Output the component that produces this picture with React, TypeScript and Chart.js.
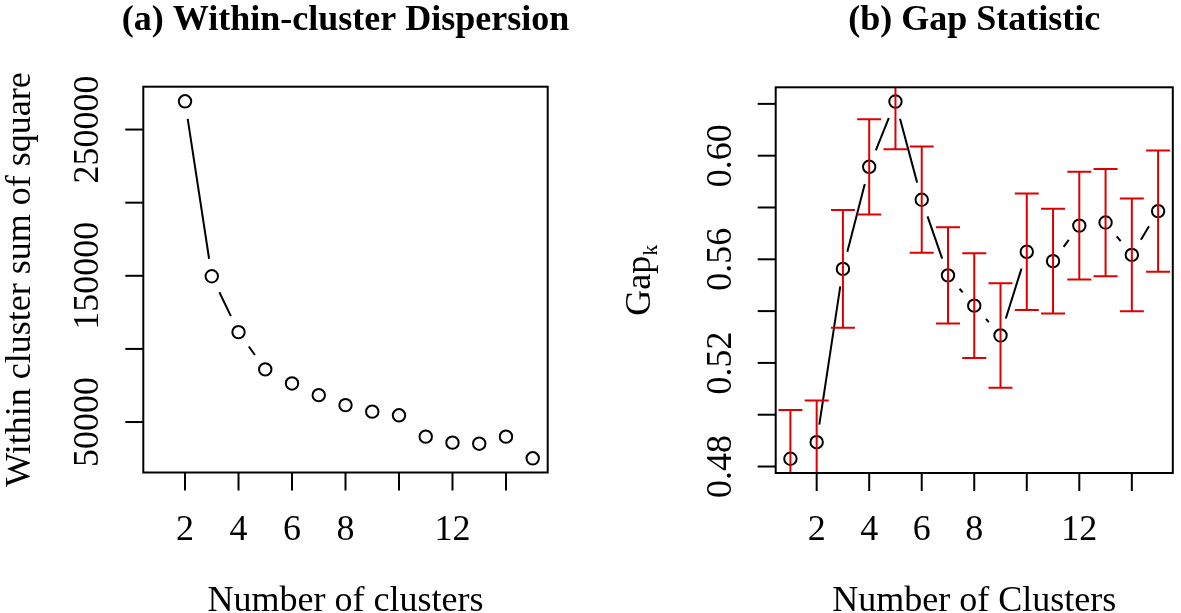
import React, { useEffect, useRef } from 'react';
import { Chart, registerables } from 'chart.js';

Chart.register(...registerables);

const FONT = '"Liberation Serif", "Times New Roman", Times, serif';

// ---------- Panel (a): within-cluster dispersion ----------
const wcssK = [2, 3, 4, 5, 6, 7, 8, 9, 10, 11, 12, 13, 14, 15];
const wcssValues = [269300, 149700, 111500, 86000, 76400, 68400, 61600, 57100, 54600, 40000, 35900, 35200, 40000, 25200];
const wcssYTicks = [50000, 100000, 150000, 200000, 250000];
const wcssYTickLabels = ['50000', '', '150000', '', '250000'];

// ---------- Panel (b): gap statistic ----------
const gapK = [1, 2, 3, 4, 5, 6, 7, 8, 9, 10, 11, 12, 13, 14, 15];
const gapValues = [0.4830, 0.4894, 0.5563, 0.5957, 0.6209, 0.5830, 0.5538, 0.5421, 0.5306, 0.5629, 0.5593, 0.5730, 0.5742, 0.5617, 0.5786];
const gapSE = [0.0188, 0.0161, 0.0227, 0.0184, 0.0184, 0.0205, 0.0186, 0.0202, 0.0202, 0.0225, 0.0202, 0.0208, 0.0207, 0.0218, 0.0234];
const gapYTicks = [0.48, 0.50, 0.52, 0.54, 0.56, 0.58, 0.60, 0.62];
const gapYTickLabels = ['0.48', '', '0.52', '', '0.56', '', '0.60', ''];

// ---------- shared x axis ----------
const xTicks = [2, 4, 6, 8, 10, 12, 14];
const xTickLabels = ['2', '4', '6', '8', '', '12', ''];

const W = 1181;
const H = 613;

type PanelCfg = {
  title: string;
  xTitle: string;
  yTitle: string;
  ySub?: string;
  yTitleX: number;
  yTicks: number[];
  yTickLabels: string[];
  errors?: number[];
};

function drawText(ctx: CanvasRenderingContext2D, str: string, x: number, y: number, font: string, align: CanvasTextAlign, rot = 0) {
  ctx.save();
  ctx.translate(x, y);
  if (rot) ctx.rotate(rot);
  ctx.font = font;
  ctx.textAlign = align;
  ctx.textBaseline = 'alphabetic';
  ctx.fillStyle = '#000';
  ctx.fillText(str, 0, 0);
  ctx.restore();
}

function makePlugin(cfg: PanelCfg) {
  return {
    id: 'rstyle',
    beforeDatasetsDraw(chart: any) {
      const ctx: CanvasRenderingContext2D = chart.ctx;
      const pts = chart.getDatasetMeta(0).data;
      const gap = 17.7;
      ctx.save();
      ctx.strokeStyle = '#000';
      ctx.lineWidth = 2;
      for (let i = 0; i < pts.length - 1; i++) {
        const a = pts[i], b = pts[i + 1];
        const dx = b.x - a.x, dy = b.y - a.y;
        const d = Math.hypot(dx, dy);
        if (d <= 2 * gap) continue;
        const ux = dx / d, uy = dy / d;
        ctx.beginPath();
        ctx.moveTo(a.x + ux * gap, a.y + uy * gap);
        ctx.lineTo(b.x - ux * gap, b.y - uy * gap);
        ctx.stroke();
      }
      ctx.restore();
    },
    afterDatasetsDraw(chart: any) {
      if (!cfg.errors) return;
      const ctx: CanvasRenderingContext2D = chart.ctx;
      const { x: xs, y: ys } = chart.scales;
      const area = chart.chartArea;
      const ds = chart.data.datasets[0].data as { x: number; y: number }[];
      ctx.save();
      ctx.beginPath();
      ctx.rect(area.left, area.top, area.right - area.left, area.bottom - area.top);
      ctx.clip();
      ctx.strokeStyle = '#dd0000';
      ctx.lineWidth = 2;
      ds.forEach((p, i) => {
        const se = cfg.errors![i];
        const px = xs.getPixelForValue(p.x);
        const yt = ys.getPixelForValue(p.y + se);
        const yb = ys.getPixelForValue(p.y - se);
        const cap = 12;
        ctx.beginPath();
        ctx.moveTo(px, yt);
        ctx.lineTo(px, yb);
        ctx.moveTo(px - cap, yt);
        ctx.lineTo(px + cap, yt);
        ctx.moveTo(px - cap, yb);
        ctx.lineTo(px + cap, yb);
        ctx.stroke();
      });
      ctx.restore();
    },
    afterDraw(chart: any) {
      const ctx: CanvasRenderingContext2D = chart.ctx;
      const { x: xs, y: ys } = chart.scales;
      const a = chart.chartArea;
      const cx = (a.left + a.right) / 2;
      const cy = (a.top + a.bottom) / 2;
      ctx.save();
      ctx.strokeStyle = '#000';
      ctx.lineWidth = 2;
      ctx.strokeRect(a.left, a.top, a.right - a.left, a.bottom - a.top);
      // x ticks
      xTicks.forEach((v, i) => {
        const px = xs.getPixelForValue(v);
        ctx.beginPath();
        ctx.moveTo(px, a.bottom);
        ctx.lineTo(px, a.bottom + 18);
        ctx.stroke();
        if (xTickLabels[i]) drawText(ctx, xTickLabels[i], px, 540, `36px ${FONT}`, 'center');
      });
      // y ticks
      cfg.yTicks.forEach((v, i) => {
        const py = ys.getPixelForValue(v);
        ctx.beginPath();
        ctx.moveTo(a.left - 18, py);
        ctx.lineTo(a.left, py);
        ctx.stroke();
        if (cfg.yTickLabels[i]) drawText(ctx, cfg.yTickLabels[i], a.left - 45, py, `36px ${FONT}`, 'center', -Math.PI / 2);
      });
      ctx.restore();
      // titles
      drawText(ctx, cfg.title, cx, 29.5, `bold 36px ${FONT}`, 'center');
      drawText(ctx, cfg.xTitle, cx, 611, `36px ${FONT}`, 'center');
      if (cfg.ySub) {
        ctx.save();
        ctx.translate(cfg.yTitleX, cy);
        ctx.rotate(-Math.PI / 2);
        ctx.fillStyle = '#000';
        ctx.textBaseline = 'alphabetic';
        ctx.textAlign = 'left';
        ctx.font = `36px ${FONT}`;
        const w1 = ctx.measureText(cfg.yTitle).width;
        ctx.font = `22px ${FONT}`;
        const w2 = ctx.measureText(cfg.ySub).width;
        const start = -(w1 + w2) / 2;
        ctx.font = `36px ${FONT}`;
        ctx.fillText(cfg.yTitle, start, 0);
        ctx.font = `22px ${FONT}`;
        ctx.fillText(cfg.ySub, start + w1, 7);
        ctx.restore();
      } else {
        drawText(ctx, cfg.yTitle, cfg.yTitleX, cy, `36px ${FONT}`, 'center', -Math.PI / 2);
      }
    },
  };
}

function makeConfig(
  xs: number[],
  ys: number[],
  yMin: number,
  yMax: number,
  padding: { left: number; right: number; top: number; bottom: number },
  cfg: PanelCfg
): any {
  return {
    type: 'scatter',
    data: {
      datasets: [
        {
          data: xs.map((x, i) => ({ x, y: ys[i] })),
          pointRadius: 6.2,
          pointBorderWidth: 2,
          pointBorderColor: '#000',
          pointBackgroundColor: 'rgba(0,0,0,0)',
          pointHoverRadius: 6.2,
          showLine: false,
          clip: false,
        },
      ],
    },
    options: {
      animation: false,
      responsive: false,
      events: [],
      layout: { padding },
      plugins: {
        legend: { display: false },
        tooltip: { enabled: false },
        title: { display: false },
      },
      scales: {
        x: { type: 'linear', display: false, min: 0.44, max: 15.56 },
        y: { type: 'linear', display: false, min: yMin, max: yMax },
      },
    },
    plugins: [makePlugin(cfg)],
  };
}

export default function App() {
  const refA = useRef<HTMLCanvasElement | null>(null);
  const refB = useRef<HTMLCanvasElement | null>(null);

  useEffect(() => {
    const chartA = new Chart(
      refA.current!,
      makeConfig(
        wcssK,
        wcssValues,
        15500,
        279300,
        { left: 143.3, right: W - 547.7, top: 86.7, bottom: H - 472.5 },
        {
          title: '(a) Within-cluster Dispersion',
          xTitle: 'Number of clusters',
          yTitle: 'Within cluster sum of square',
          yTitleX: 29.5,
          yTicks: wcssYTicks,
          yTickLabels: wcssYTickLabels,
        }
      )
    );
    const chartB = new Chart(
      refB.current!,
      makeConfig(
        gapK,
        gapValues,
        0.4775,
        0.6264,
        { left: 775.7, right: W - 1179.4, top: 87.3, bottom: H - 473 },
        {
          title: '(b) Gap Statistic',
          xTitle: 'Number of Clusters',
          yTitle: 'Gap',
          ySub: 'k',
          yTitleX: 650,
          yTicks: gapYTicks,
          yTickLabels: gapYTickLabels,
          errors: gapSE,
        }
      )
    );
    return () => {
      chartA.destroy();
      chartB.destroy();
    };
  }, []);

  const canvasStyle: React.CSSProperties = { position: 'absolute', left: 0, top: 0, width: W, height: H };
  return (
    <div style={{ position: 'fixed', left: 0, top: 0, width: W, height: H, background: '#fff', overflow: 'hidden' }}>
      <canvas ref={refA} width={W} height={H} style={canvasStyle} />
      <canvas ref={refB} width={W} height={H} style={canvasStyle} />
    </div>
  );
}
